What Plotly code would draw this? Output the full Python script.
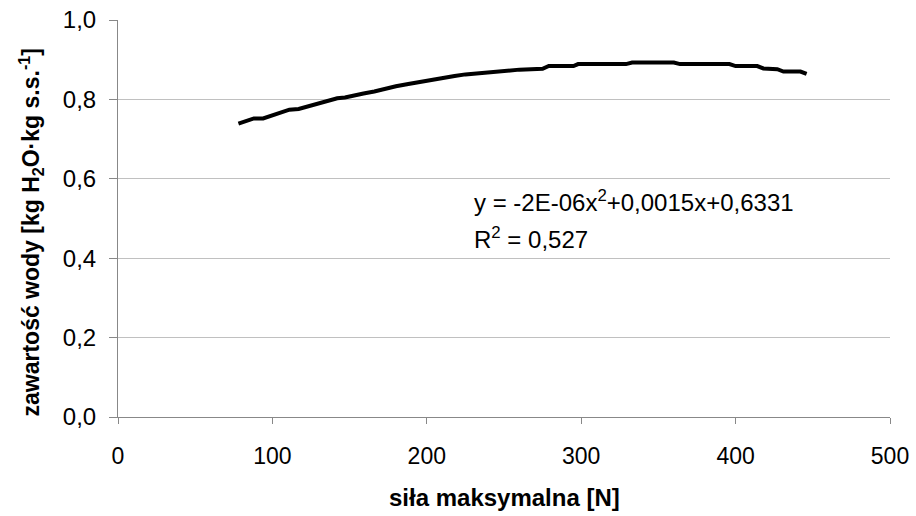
import plotly.graph_objects as go

# data
sila = [78, 88, 94, 111, 117, 129, 132, 142, 147, 155, 159, 166, 175, 180, 188,
        195, 203, 210, 218, 225, 231, 240, 248, 260, 275, 279, 295, 298, 329,
        333, 360, 364, 396, 400, 414, 418, 427, 431, 442, 446]
woda = [0.739, 0.752, 0.752, 0.774, 0.776, 0.789, 0.791, 0.803, 0.805, 0.813,
        0.815, 0.820, 0.829, 0.833, 0.839, 0.844, 0.850, 0.854, 0.859, 0.863,
        0.865, 0.869, 0.871, 0.875, 0.877, 0.884, 0.884, 0.889, 0.889, 0.893,
        0.893, 0.889, 0.889, 0.884, 0.884, 0.878, 0.876, 0.870, 0.870, 0.864]

x_ticks = [0, 100, 200, 300, 400, 500]
y_ticks = [0.0, 0.2, 0.4, 0.6, 0.8, 1.0]
y_tick_labels = ["0,0", "0,2", "0,4", "0,6", "0,8", "1,0"]

eq_line1 = "y = -2E-06x<sup>2</sup>+0,0015x+0,6331"
eq_line2 = "R<sup>2</sup> = 0,527"

FONT = "Liberation Sans, Arial, sans-serif"

fig = go.Figure()
fig.add_trace(go.Scatter(x=sila, y=woda, mode="lines",
                         line=dict(color="black", width=4), showlegend=False))

fig.update_layout(
    width=916, height=516,
    margin=dict(l=118, r=26, t=20, b=99, autoexpand=False),
    paper_bgcolor="white", plot_bgcolor="white",
    font=dict(family=FONT, size=23, color="black"),
    xaxis=dict(range=[0, 500], tickvals=x_ticks, ticktext=[str(v) for v in x_ticks],
               showgrid=False, zeroline=False, showline=True, linecolor="#888888",
               linewidth=1, ticks="outside", ticklen=6, tickcolor="#888888",
               tickfont=dict(size=23, family=FONT), ticklabelstandoff=12,
               automargin=False),
    yaxis=dict(range=[0, 1.0], tickvals=y_ticks, ticktext=y_tick_labels,
               showgrid=True, gridcolor="#c0c0c0", gridwidth=1, zeroline=False,
               showline=True, linecolor="#888888", linewidth=1,
               ticks="outside", ticklen=8, tickcolor="#888888",
               tickfont=dict(size=24, family=FONT), ticklabelstandoff=8,
               automargin=False),
    annotations=[
        dict(text="<b>siła maksymalna [N]</b>", xref="paper", yref="paper",
             x=0.5, y=0, xanchor="center", yanchor="middle", yshift=-80,
             showarrow=False, font=dict(size=24, family=FONT)),
        dict(text="<b>zawartość wody [kg H<sub>2</sub>O·kg s.s.<sup>-1</sup>]</b>",
             xref="paper", yref="paper", x=0, y=0.5, xanchor="center",
             yanchor="middle", xshift=-88, yshift=-14, textangle=-90, showarrow=False,
             font=dict(size=23, family=FONT)),
        dict(text=eq_line1, xref="x", yref="y", x=229, y=0.545, xanchor="left",
             yanchor="middle", align="left", showarrow=False,
             font=dict(size=24, family=FONT)),
        dict(text=eq_line2, xref="x", yref="y", x=229, y=0.452, xanchor="left",
             yanchor="middle", align="left", showarrow=False,
             font=dict(size=24, family=FONT)),
    ],
)

fig.write_html("out.html")
